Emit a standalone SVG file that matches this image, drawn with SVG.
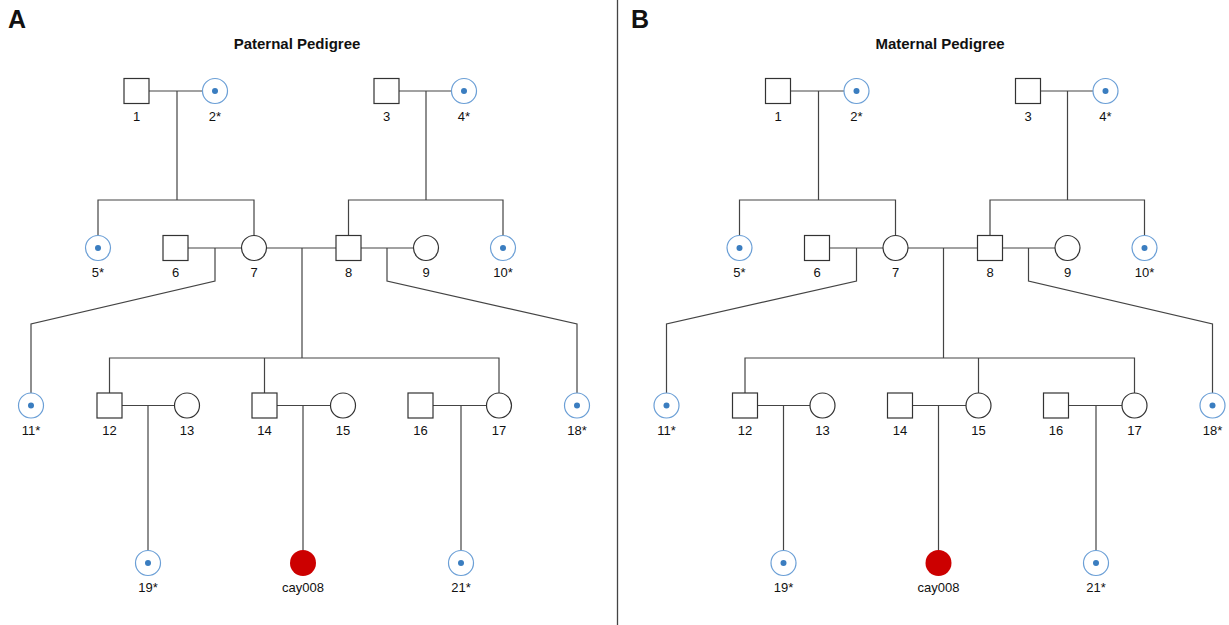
<svg xmlns="http://www.w3.org/2000/svg" width="1229" height="625" viewBox="0 0 1229 625">
<style>
.sq{fill:#fff;stroke:#333;stroke-width:1.2}
.ci{fill:#fff;stroke:#333;stroke-width:1.2}
.car{fill:#fff;stroke:#6b9fd6;stroke-width:1.2}
.dot{fill:#3a7dc0}
.aff{fill:#cc0000}
.ln{stroke:#444;stroke-width:1.2;fill:none}
.lb{font-family:"Liberation Sans",Arial,sans-serif;font-size:13px;text-anchor:middle;fill:#111}
.ttl{font-family:"Liberation Sans",Arial,sans-serif;font-size:15px;font-weight:bold;text-anchor:middle;fill:#111}
.pl{font-family:"Liberation Sans",Arial,sans-serif;font-size:25px;font-weight:bold;fill:#111}
</style>
<rect width="1229" height="625" fill="#fff"/>
<line x1="617.5" y1="0" x2="617.5" y2="625" stroke="#444" stroke-width="1.3"/>
<text class="pl" x="8" y="28">A</text>
<text class="pl" x="631" y="28">B</text>
<text class="ttl" x="297" y="49">Paternal Pedigree</text>
<text class="ttl" x="940" y="49">Maternal Pedigree</text>
<g id="connectors" class="ln">
<path d="M149 91 H202.5 M177 91 V200 M98 235.5 V200 H254 V235.5"/>
<path d="M399 91 H451.5 M426 91 V200 M348.5 235.5 V200 H503 V235.5"/>
<path d="M188 248 H241.5 M215 248 V281 L31 324 V393"/>
<path d="M266.5 248 H336 M302 248 V358"/>
<path d="M361 248 H413.5 M387 248 V281 L577 324 V393"/>
<path d="M109.5 393 V358 H499 V393 M264.5 358 V393"/>
<path d="M122 405.5 H174.5 M148 405.5 V550.5"/>
<path d="M277 405.5 H330.5 M303 405.5 V550.5"/>
<path d="M433 405.5 H486.5 M461 405.5 V550.5"/>
<path d="M790.5 91 H844 M818.5 91 V200 M739.5 235.5 V200 H895.5 V235.5"/>
<path d="M1040.5 91 H1093 M1067.5 91 V200 M990 235.5 V200 H1144.5 V235.5"/>
<path d="M829.5 248 H883 M856.5 248 V281 L666.5 324 V393"/>
<path d="M908 248 H977.5 M943.5 248 V358"/>
<path d="M1002.5 248 H1055 M1028.5 248 V281 L1212.5 324 V393"/>
<path d="M745 393 V358 H1134.5 V393 M978.5 358 V393"/>
<path d="M757.5 405.5 H810 M783.5 405.5 V550.5"/>
<path d="M912.5 405.5 H966 M938.5 405.5 V550.5"/>
<path d="M1068.5 405.5 H1122 M1096 405.5 V550.5"/>
</g>
<g id="A1"><rect class="sq" x="124" y="78.5" width="25" height="25"/><text class="lb" x="136.5" y="121">1</text></g>
<g id="A2"><circle class="car" cx="215" cy="91" r="12.5"/><circle class="dot" cx="215" cy="91" r="3"/><text class="lb" x="215" y="121">2*</text></g>
<g id="A3"><rect class="sq" x="374" y="78.5" width="25" height="25"/><text class="lb" x="386.5" y="121">3</text></g>
<g id="A4"><circle class="car" cx="464" cy="91" r="12.5"/><circle class="dot" cx="464" cy="91" r="3"/><text class="lb" x="464" y="121">4*</text></g>
<g id="A5"><circle class="car" cx="98" cy="248" r="12.5"/><circle class="dot" cx="98" cy="248" r="3"/><text class="lb" x="98" y="277">5*</text></g>
<g id="A6"><rect class="sq" x="163" y="235.5" width="25" height="25"/><text class="lb" x="175.5" y="277">6</text></g>
<g id="A7"><circle class="ci" cx="254" cy="248" r="12.5"/><text class="lb" x="254" y="277">7</text></g>
<g id="A8"><rect class="sq" x="336" y="235.5" width="25" height="25"/><text class="lb" x="348.5" y="277">8</text></g>
<g id="A9"><circle class="ci" cx="426" cy="248" r="12.5"/><text class="lb" x="426" y="277">9</text></g>
<g id="A10"><circle class="car" cx="503" cy="248" r="12.5"/><circle class="dot" cx="503" cy="248" r="3"/><text class="lb" x="503" y="277">10*</text></g>
<g id="A11"><circle class="car" cx="31" cy="405.5" r="12.5"/><circle class="dot" cx="31" cy="405.5" r="3"/><text class="lb" x="31" y="435">11*</text></g>
<g id="A12"><rect class="sq" x="97" y="393" width="25" height="25"/><text class="lb" x="109.5" y="435">12</text></g>
<g id="A13"><circle class="ci" cx="187" cy="405.5" r="12.5"/><text class="lb" x="187" y="435">13</text></g>
<g id="A14"><rect class="sq" x="252" y="393" width="25" height="25"/><text class="lb" x="264.5" y="435">14</text></g>
<g id="A15"><circle class="ci" cx="343" cy="405.5" r="12.5"/><text class="lb" x="343" y="435">15</text></g>
<g id="A16"><rect class="sq" x="408" y="393" width="25" height="25"/><text class="lb" x="420.5" y="435">16</text></g>
<g id="A17"><circle class="ci" cx="499" cy="405.5" r="12.5"/><text class="lb" x="499" y="435">17</text></g>
<g id="A18"><circle class="car" cx="577" cy="405.5" r="12.5"/><circle class="dot" cx="577" cy="405.5" r="3"/><text class="lb" x="577" y="435">18*</text></g>
<g id="A19"><circle class="car" cx="148" cy="563" r="12.5"/><circle class="dot" cx="148" cy="563" r="3"/><text class="lb" x="148" y="592">19*</text></g>
<g id="Acay008"><circle class="aff" cx="303" cy="563" r="13"/><text class="lb" x="303" y="592">cay008</text></g>
<g id="A21"><circle class="car" cx="461" cy="563" r="12.5"/><circle class="dot" cx="461" cy="563" r="3"/><text class="lb" x="461" y="592">21*</text></g>
<g id="B1"><rect class="sq" x="765.5" y="78.5" width="25" height="25"/><text class="lb" x="778" y="121">1</text></g>
<g id="B2"><circle class="car" cx="856.5" cy="91" r="12.5"/><circle class="dot" cx="856.5" cy="91" r="3"/><text class="lb" x="856.5" y="121">2*</text></g>
<g id="B3"><rect class="sq" x="1015.5" y="78.5" width="25" height="25"/><text class="lb" x="1028" y="121">3</text></g>
<g id="B4"><circle class="car" cx="1105.5" cy="91" r="12.5"/><circle class="dot" cx="1105.5" cy="91" r="3"/><text class="lb" x="1105.5" y="121">4*</text></g>
<g id="B5"><circle class="car" cx="739.5" cy="248" r="12.5"/><circle class="dot" cx="739.5" cy="248" r="3"/><text class="lb" x="739.5" y="277">5*</text></g>
<g id="B6"><rect class="sq" x="804.5" y="235.5" width="25" height="25"/><text class="lb" x="817" y="277">6</text></g>
<g id="B7"><circle class="ci" cx="895.5" cy="248" r="12.5"/><text class="lb" x="895.5" y="277">7</text></g>
<g id="B8"><rect class="sq" x="977.5" y="235.5" width="25" height="25"/><text class="lb" x="990" y="277">8</text></g>
<g id="B9"><circle class="ci" cx="1067.5" cy="248" r="12.5"/><text class="lb" x="1067.5" y="277">9</text></g>
<g id="B10"><circle class="car" cx="1144.5" cy="248" r="12.5"/><circle class="dot" cx="1144.5" cy="248" r="3"/><text class="lb" x="1144.5" y="277">10*</text></g>
<g id="B11"><circle class="car" cx="666.5" cy="405.5" r="12.5"/><circle class="dot" cx="666.5" cy="405.5" r="3"/><text class="lb" x="666.5" y="435">11*</text></g>
<g id="B12"><rect class="sq" x="732.5" y="393" width="25" height="25"/><text class="lb" x="745" y="435">12</text></g>
<g id="B13"><circle class="ci" cx="822.5" cy="405.5" r="12.5"/><text class="lb" x="822.5" y="435">13</text></g>
<g id="B14"><rect class="sq" x="887.5" y="393" width="25" height="25"/><text class="lb" x="900" y="435">14</text></g>
<g id="B15"><circle class="ci" cx="978.5" cy="405.5" r="12.5"/><text class="lb" x="978.5" y="435">15</text></g>
<g id="B16"><rect class="sq" x="1043.5" y="393" width="25" height="25"/><text class="lb" x="1056" y="435">16</text></g>
<g id="B17"><circle class="ci" cx="1134.5" cy="405.5" r="12.5"/><text class="lb" x="1134.5" y="435">17</text></g>
<g id="B18"><circle class="car" cx="1212.5" cy="405.5" r="12.5"/><circle class="dot" cx="1212.5" cy="405.5" r="3"/><text class="lb" x="1212.5" y="435">18*</text></g>
<g id="B19"><circle class="car" cx="783.5" cy="563" r="12.5"/><circle class="dot" cx="783.5" cy="563" r="3"/><text class="lb" x="783.5" y="592">19*</text></g>
<g id="Bcay008"><circle class="aff" cx="938.5" cy="563" r="13"/><text class="lb" x="938.5" y="592">cay008</text></g>
<g id="B21"><circle class="car" cx="1096" cy="563" r="12.5"/><circle class="dot" cx="1096" cy="563" r="3"/><text class="lb" x="1096" y="592">21*</text></g>
</svg>
